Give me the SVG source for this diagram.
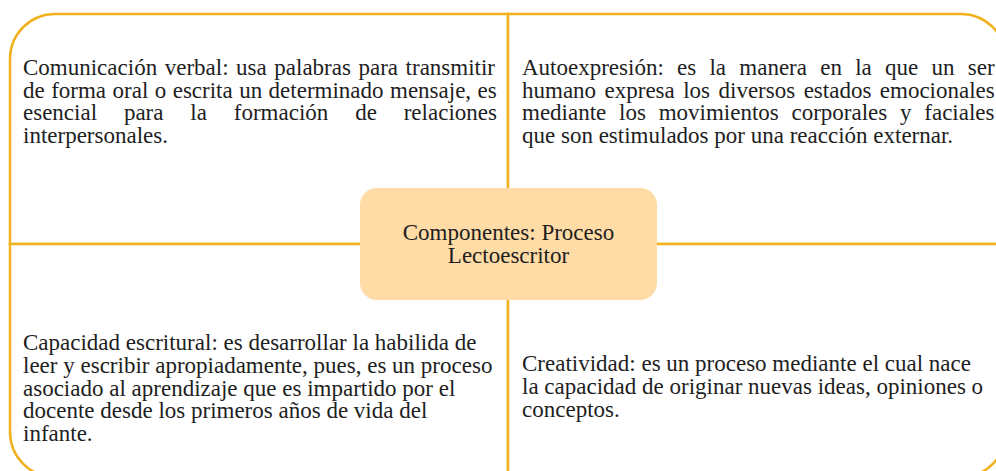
<svg xmlns="http://www.w3.org/2000/svg" width="996" height="471" viewBox="0 0 996 471">
<style>
.q{fill:#ffffff;stroke:#EFB21E;stroke-width:2.5}
.t{font-family:"Liberation Serif","Times New Roman",serif;font-size:23px;fill:#1e1e1e}
.c{text-anchor:middle}
.box{fill:#FFDBA6;stroke:none}
</style>
<rect x="0" y="0" width="996" height="471" fill="#ffffff"/>
<g id="q-top-left">
<path class="q" d="M10 244 L10 59 A45 45 0 0 1 55 14 L508 14 L508 244 Z"/>
<text class="t" x="23" y="75" word-spacing="1.8">Comunicación verbal: usa palabras para transmitir</text>
<text class="t" x="23" y="97.7" word-spacing="0.7">de forma oral o escrita un determinado mensaje, es</text>
<text class="t" x="23" y="120.4" word-spacing="21.1">esencial para la formación de relaciones</text>
<text class="t" x="23" y="143.1">interpersonales.</text>
</g>
<g id="q-top-right">
<path class="q" d="M508 244 L508 14 L961 14 A45 45 0 0 1 1006 59 L1006 244 Z"/>
<text class="t" x="522" y="75" word-spacing="7.5">Autoexpresión: es la manera en la que un ser</text>
<text class="t" x="522" y="97.7" word-spacing="2.7">humano expresa los diversos estados emocionales</text>
<text class="t" x="522" y="120.4" word-spacing="7.0">mediante los movimientos corporales y faciales</text>
<text class="t" x="522" y="143.1">que son estimulados por una reacción externar.</text>
</g>
<g id="q-bottom-left">
<path class="q" d="M10 244 L10 432 A45 45 0 0 0 55 477 L508 477 L508 244 Z"/>
<text class="t" x="23" y="350">Capacidad escritural: es desarrollar la habilida de</text>
<text class="t" x="23" y="372.8">leer y escribir apropiadamente, pues, es un proceso</text>
<text class="t" x="23" y="395.6">asociado al aprendizaje que es impartido por el</text>
<text class="t" x="23" y="418.4">docente desde los primeros años de vida del</text>
<text class="t" x="23" y="441.2">infante.</text>
</g>
<g id="q-bottom-right">
<path class="q" d="M508 244 L508 477 L961 477 A45 45 0 0 0 1006 432 L1006 244 Z"/>
<text class="t" x="522" y="371">Creatividad: es un proceso mediante el cual nace</text>
<text class="t" x="522" y="393.8">la capacidad de originar nuevas ideas, opiniones o</text>
<text class="t" x="522" y="416.6">conceptos.</text>
</g>
<g id="center">
<rect class="box" x="360" y="188" width="297" height="112" rx="17"/>
<text class="t c" x="508.5" y="240">Componentes: Proceso</text>
<text class="t c" x="508.5" y="263">Lectoescritor</text>
</g>
</svg>
